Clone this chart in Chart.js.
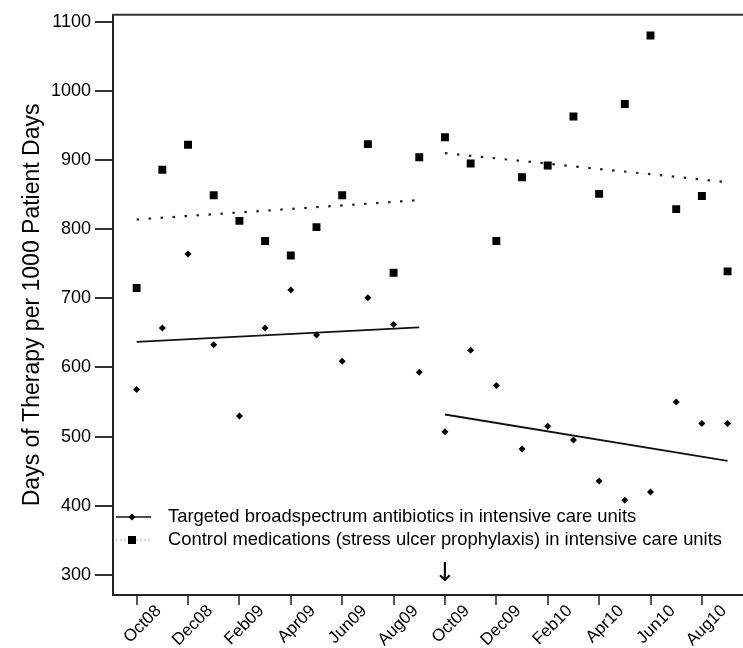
<!DOCTYPE html>
<html>
<head>
<meta charset="utf-8">
<script src="https://cdn.jsdelivr.net/npm/chart.js@4.4.1/dist/chart.umd.min.js"></script>
<style>
  html, body { margin: 0; padding: 0; background: #fff; }
  #wrap { width: 743px; height: 648px; }
</style>
</head>
<body>
<div id="wrap"><canvas id="dotChart"></canvas></div>
<script>
// month index 0 = Oct08 ... 23 = Sep10, intervention at Oct09
const months = ['Oct08', 'Nov08', 'Dec08', 'Jan09', 'Feb09', 'Mar09', 'Apr09', 'May09', 'Jun09', 'Jul09', 'Aug09', 'Sep09',
                'Oct09', 'Nov09', 'Dec09', 'Jan10', 'Feb10', 'Mar10', 'Apr10', 'May10', 'Jun10', 'Jul10', 'Aug10', 'Sep10'];
const tickMonths = [0, 2, 4, 6, 8, 10, 12, 14, 16, 18, 20, 22];
const yTicks = [300, 400, 500, 600, 700, 800, 900, 1000, 1100];

const targeted = [568, 657, 764, 633, 530, 657, 712, 647, 609, 701, 662, 593,
                  507, 625, 574, 482, 515, 495, 436, 408, 420, 550, 519, 519];
const control = [715, 886, 922, 849, 812, 783, 762, 803, 849, 923, 737, 904,
                 933, 895, 783, 875, 892, 963, 851, 981, 1080, 829, 848, 739];

// fitted segments, [start, end] over each period
const preMonths = [0, 11];
const postMonths = [12, 23];
const targetedTrendPre = [637, 658];
const targetedTrendPost = [532, 465];
const controlTrendPre = [814, 842];
const controlTrendPost = [910, 868];

const interventionMonth = 12;
const legendLabels = [
    'Targeted broadspectrum antibiotics in intensive care units',
    'Control medications (stress ulcer prophylaxis) in intensive care units'
];

const FONT = '"Liberation Sans", Arial, Helvetica, sans-serif';

function toPoints(values) {
    return values.map((v, i) => ({ x: i, y: v }));
}
function toSegment(xs, ys) {
    return [{ x: xs[0], y: ys[0] }, { x: xs[1], y: ys[1] }];
}

const trendStyle = { type: 'line', pointRadius: 0, fill: false, tension: 0, borderColor: '#111' };
const dottedStyle = Object.assign({}, trendStyle, { borderWidth: 2.2, borderDash: [2.5, 9.5], borderColor: '#222' });
const solidStyle = Object.assign({}, trendStyle, { borderWidth: 1.8 });

// top frame line, intervention arrow and the inset legend
const extras = {
    id: 'extras',
    afterDraw(chart) {
        const ctx = chart.ctx;
        const area = chart.chartArea;
        const x = chart.scales.x;

        ctx.save();
        ctx.strokeStyle = '#333';
        ctx.lineWidth = 2;
        ctx.beginPath();
        ctx.moveTo(area.left - 1, area.top);
        ctx.lineTo(area.right, area.top);
        ctx.stroke();

        // arrow marking the start of the intervention
        ctx.fillStyle = '#000';
        ctx.font = '26px "DejaVu Sans", sans-serif';
        ctx.textAlign = 'center';
        ctx.textBaseline = 'bottom';
        ctx.fillText('\u2193', x.getPixelForValue(interventionMonth), area.bottom - 8);

        // legend
        const rows = [517, 540];
        ctx.font = '18.4px ' + FONT;
        ctx.textAlign = 'left';
        ctx.textBaseline = 'middle';
        rows.forEach((y, i) => {
            ctx.beginPath();
            if (i === 0) {
                ctx.strokeStyle = '#111';
                ctx.lineWidth = 1.5;
                ctx.setLineDash([]);
            } else {
                ctx.strokeStyle = '#999';
                ctx.lineWidth = 1.2;
                ctx.setLineDash([1.5, 2.5]);
            }
            ctx.moveTo(area.left + 3, y);
            ctx.lineTo(area.left + 38, y);
            ctx.stroke();
            ctx.setLineDash([]);
            ctx.fillStyle = '#000';
            if (i === 0) {
                ctx.beginPath();
                ctx.moveTo(area.left + 19, y - 3.5);
                ctx.lineTo(area.left + 22.5, y);
                ctx.lineTo(area.left + 19, y + 3.5);
                ctx.lineTo(area.left + 15.5, y);
                ctx.closePath();
                ctx.fill();
            } else {
                ctx.fillRect(area.left + 15, y - 4, 8, 8);
            }
            ctx.fillText(legendLabels[i], area.left + 55, y);
        });
        ctx.restore();
    }
};

new Chart(document.getElementById('dotChart'), {
    type: 'scatter',
    data: {
        datasets: [{
            label: legendLabels[0],
            data: toPoints(targeted),
            pointStyle: 'rectRot',
            pointRadius: 3.5,
            borderWidth: 0,
            backgroundColor: '#000'
        }, {
            label: legendLabels[1],
            data: toPoints(control),
            pointStyle: 'rect',
            pointRadius: 5.6,
            borderWidth: 0,
            backgroundColor: '#000'
        },
        Object.assign({ data: toSegment(preMonths, targetedTrendPre) }, solidStyle),
        Object.assign({ data: toSegment(postMonths, targetedTrendPost) }, solidStyle),
        Object.assign({ data: toSegment(preMonths, controlTrendPre) }, dottedStyle),
        Object.assign({ data: toSegment(postMonths, controlTrendPost) }, dottedStyle)]
    },
    options: {
        responsive: true,
        maintainAspectRatio: false,
        animation: false,
        devicePixelRatio: 1,
        layout: { autoPadding: false, padding: { top: 13, right: 0, bottom: 0, left: 0 } },
        plugins: {
            legend: { display: false },
            tooltip: { enabled: false }
        },
        scales: {
            x: {
                type: 'linear',
                min: -0.92,
                max: 23.6,
                afterBuildTicks: function(scale) {
                    scale.ticks = tickMonths.map(v => ({ value: v }));
                },
                afterFit: function(scale) {
                    scale.height = 53;
                },
                border: { display: true, color: '#222', width: 2 },
                grid: { display: true, drawOnChartArea: false, drawTicks: true, tickLength: 10, color: '#555', lineWidth: 2 },
                ticks: {
                    autoSkip: false,
                    minRotation: 45,
                    maxRotation: 45,
                    padding: -4,
                    labelOffset: 22,
                    color: '#000',
                    font: { family: FONT, size: 17 },
                    callback: function(value) {
                        return months[value] || '';
                    }
                }
            },
            y: {
                min: 271,
                max: 1110,
                afterBuildTicks: function(scale) {
                    scale.ticks = yTicks.map(v => ({ value: v }));
                },
                afterFit: function(scale) {
                    scale.width = 113;
                },
                border: { display: true, color: '#222', width: 2 },
                grid: { display: true, drawOnChartArea: false, drawTicks: true, tickLength: 18, color: '#333', lineWidth: 2 },
                ticks: {
                    padding: 4,
                    color: '#000',
                    font: { family: FONT, size: 18 },
                    callback: function(value) {
                        return String(value);
                    }
                },
                title: {
                    display: true,
                    text: 'Days of Therapy per 1000 Patient Days',
                    color: '#000',
                    font: { family: FONT, size: 23 },
                    padding: { top: 19, bottom: 0 }
                }
            }
        }
    },
    plugins: [extras]
});
</script>
</body>
</html>
